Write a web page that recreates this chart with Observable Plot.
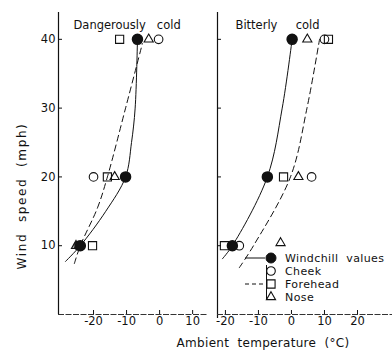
<!DOCTYPE html>
<html>
<head>
<meta charset="utf-8">
<script src="https://cdn.jsdelivr.net/npm/d3@7"></script>
<script src="https://cdn.jsdelivr.net/npm/@observablehq/plot@0.6"></script>
<style>
  body { margin: 0; background: #fff; }
  #chart { position: relative; width: 392px; height: 356px; overflow: hidden;
           font-family: "DejaVu Sans", sans-serif; color: #111; background: #fff; }
  #chart svg { position: absolute; top: 0; overflow: visible; }
  #chart svg text { white-space: pre; }
  .lbl { position: absolute; white-space: pre; font-size: 12px; line-height: 1; }
  #ylab { left: 22px; top: 196px; transform: translate(-50%, -50%) rotate(-90deg); letter-spacing: 1.6px; }
  #xlab { left: 263px; top: 343px; transform: translate(-50%, -50%); letter-spacing: 0.3px; }
</style>
</head>
<body>
<div id="chart">
  <div class="lbl" id="ylab">Wind  speed  (mph)</div>
  <div class="lbl" id="xlab">Ambient  temperature  (°C)</div>
</div>
<script>
// Wind speeds at which the facial skin temperatures were measured (mph)
const windSpeeds = [10, 20, 40];

// "Dangerously cold" condition: ambient temperature (°C) per wind speed
const dangerWindchill = [-24, -10.3, -6.7];
const dangerCheek = [-24.6, -20, -0.3];
const dangerForehead = [-20.3, -15.8, -12.1];
const dangerNose = [-25.3, -13.6, -3.3];

// "Bitterly cold" condition
const bitterWindchill = [-17.9, -7.3, 0.2];
const bitterCheek = [-15.8, 6.1, 10];
const bitterForehead = [-20.3, -2.4, 11.2];
const bitterNose = [-3.3, 2.1, 4.8];
const bitterNoseSpeeds = [10.4, 20, 40];

// Fitted curves: wind speed (mph) and temperature (°C)
const dangerWindchillFitSpeed = [7.7, 10, 15, 20, 25, 30, 40];
const dangerWindchillFitTemp = [-28.5, -24, -16.3, -10.3, -8.5, -7.4, -6.7];
const dangerFaceFitSpeed = [7.4, 10, 15.5, 20, 30, 39.4];
const dangerFaceFitTemp = [-25.8, -24, -18.8, -15.8, -10.3, -5.2];
const bitterWindchillFitSpeed = [8.1, 10, 20, 30, 40];
const bitterWindchillFitTemp = [-20.9, -17.9, -7.3, -2.8, 0.2];
const bitterFaceFitSpeed = [6.8, 10, 20, 30, 40];
const bitterFaceFitTemp = [-15.8, -11.5, -0.3, 4.7, 8.5];

// Axis ticks
const speedTicks = [10, 20, 30, 40];
const dangerTempTicks = [-20, -10, 0, 10];
const bitterTempTicks = [-20, -10, 0, 10, 20];

// Panel titles and legend entries
const panelTitles = ["Dangerously   cold", "Bitterly     cold"];
const legendLabels = ["Windchill  values", "Cheek", "Forehead", "Nose"];

const speedDomain = [0, 43.9];
const dangerTempDomain = [-30.6, 14.5];
const bitterTempDomain = [-22.4, 30.6];

const rows = (temps, speeds = windSpeeds) => temps.map((t, i) => ({t, s: speeds[i]}));
const curve = (speeds, temps) => speeds.map((s, i) => ({t: temps[i], s}));

const symbolMarks = (windchill, cheek, forehead, nose) => [
  Plot.dot(cheek, {x: "t", y: "s", symbol: "circle", r: 4.3, stroke: "#111", strokeWidth: 1.1, fill: "none"}),
  Plot.dot(forehead, {x: "t", y: "s", symbol: "square", r: 4.6, stroke: "#111", strokeWidth: 1.1, fill: "none"}),
  Plot.dot(nose, {x: "t", y: "s", symbol: "triangle", r: 3.4, stroke: "#111", strokeWidth: 1.1, fill: "none"}),
  Plot.dot(windchill, {x: "t", y: "s", r: 5, fill: "#111", stroke: "#111"})
];

const baseStyle = {fontFamily: "DejaVu Sans", fontSize: "11.5px", color: "#111", background: "transparent", overflow: "visible"};

function panel({width, marginLeft, tempDomain, tempTicks, yLabels, title, titleDx, marks, axisDrop}) {
  return Plot.plot({
    width, height: 330,
    marginLeft, marginRight: 0, marginTop: 12, marginBottom: 16,
    style: baseStyle,
    x: {domain: tempDomain},
    y: {domain: speedDomain},
    marks: [
      Plot.axisY(speedTicks, {tickSize: -4, tickPadding: 7, label: null, text: yLabels ? undefined : () => "", strokeWidth: 1}),
      Plot.axisX(tempTicks, {tickSize: -4, tickPadding: 6, label: null, tickFormat: d => d === 0 ? "0" : d < 0 ? "-" + Math.abs(d) : String(d)}),
      Plot.ruleX([tempDomain[0]], {stroke: "#111", strokeWidth: 1.2, insetBottom: -axisDrop}),
      Plot.ruleY([0], {stroke: "#333", strokeWidth: 1, strokeDasharray: "6,1.5"}),
      Plot.text([title], {frameAnchor: "top-left", dx: titleDx, dy: 8, fontSize: 11.5, textAnchor: "start", fill: "#111"}),
      ...marks
    ]
  });
}

const left = panel({
  width: 207, marginLeft: 58,
  tempDomain: dangerTempDomain, tempTicks: dangerTempTicks, yLabels: true,
  title: panelTitles[0], titleDx: 15, axisDrop: 0,
  marks: [
    Plot.line(curve(dangerWindchillFitSpeed, dangerWindchillFitTemp), {x: "t", y: "s", curve: "catmull-rom", stroke: "#111", strokeWidth: 1}),
    Plot.line(curve(dangerFaceFitSpeed, dangerFaceFitTemp), {x: "t", y: "s", curve: "catmull-rom", stroke: "#111", strokeWidth: 1, strokeDasharray: "6,4"}),
    ...symbolMarks(rows(dangerWindchill), rows(dangerCheek), rows(dangerForehead), rows(dangerNose))
  ]
});

const right = panel({
  width: 185, marginLeft: 10,
  tempDomain: bitterTempDomain, tempTicks: bitterTempTicks, yLabels: false,
  title: panelTitles[1], titleDx: 18, axisDrop: 4,
  marks: [
    Plot.line(curve(bitterWindchillFitSpeed, bitterWindchillFitTemp), {x: "t", y: "s", curve: "catmull-rom", stroke: "#111", strokeWidth: 1}),
    Plot.line(curve(bitterFaceFitSpeed, bitterFaceFitTemp), {x: "t", y: "s", curve: "catmull-rom", stroke: "#111", strokeWidth: 1, strokeDasharray: "6,4"}),
    ...symbolMarks(rows(bitterWindchill), rows(bitterCheek), rows(bitterForehead), rows(bitterNose, bitterNoseSpeeds))
  ]
});

left.style.left = "0px";
right.style.left = "207px";
const chart = document.getElementById("chart");
chart.prepend(right);
chart.prepend(left);

// Legend inside the "Bitterly cold" panel
const lg = d3.select(right).append("g").attr("fill", "none").attr("stroke", "#111");
const rowY = [258, 271, 284, 297];
const symX = 64, textX = 78;
lg.append("line").attr("x1", 38).attr("x2", 58).attr("y1", rowY[0]).attr("y2", rowY[0]);
lg.append("line").attr("x1", 38).attr("x2", 56).attr("y1", rowY[2]).attr("y2", rowY[2]).attr("stroke-dasharray", "4,3");
lg.append("line").attr("x1", 59.5).attr("x2", 59.5).attr("y1", 265).attr("y2", 299);
const sym = (type, r) => d3.symbol(type, Math.PI * r * r)();
lg.append("path").attr("d", sym(d3.symbolCircle, 5)).attr("transform", `translate(${symX},${rowY[0]})`).attr("fill", "#111");
lg.append("path").attr("d", sym(d3.symbolCircle, 4.3)).attr("transform", `translate(${symX},${rowY[1]})`).attr("stroke-width", 1.1);
lg.append("path").attr("d", sym(d3.symbolSquare, 4.6)).attr("transform", `translate(${symX},${rowY[2]})`).attr("stroke-width", 1.1);
lg.append("path").attr("d", sym(d3.symbolTriangle, 3.4)).attr("transform", `translate(${symX},${rowY[3]})`).attr("stroke-width", 1.1);
lg.selectAll("text").data(legendLabels).join("text")
  .attr("x", textX).attr("y", (d, i) => rowY[i]).attr("dy", "0.35em")
  .attr("text-anchor", "start")
  .attr("fill", "#111").attr("stroke", "none")
  .attr("font-size", 11).attr("letter-spacing", 0.4).attr("font-family", "DejaVu Sans")
  .text(d => d);
</script>
</body>
</html>
